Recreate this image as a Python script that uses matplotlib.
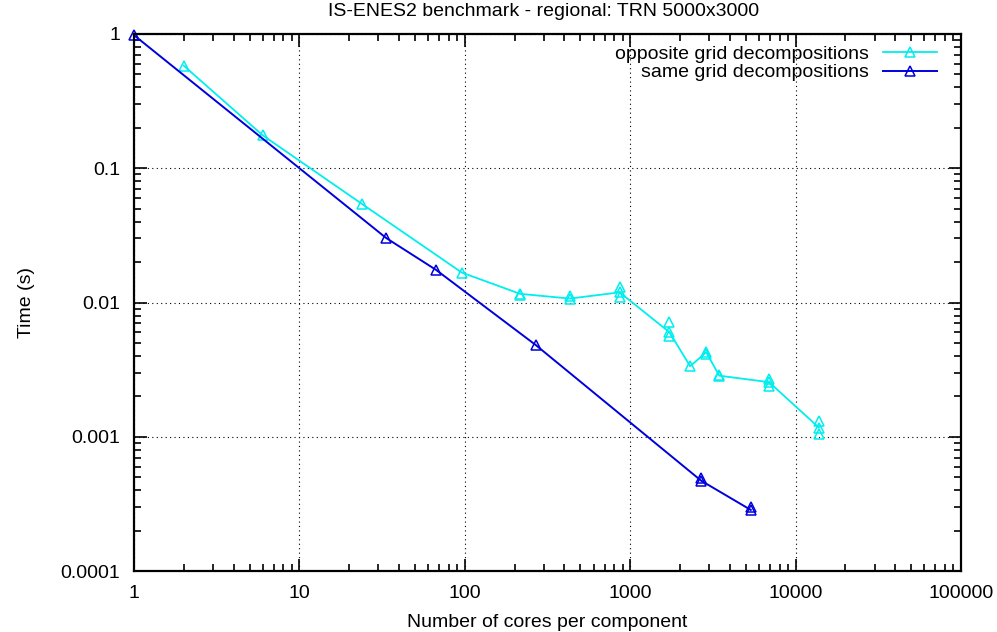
import numpy as np
import matplotlib.pyplot as plt
from matplotlib.ticker import LogLocator, FixedLocator, NullFormatter

plt.rcParams['font.family'] = ['Liberation Sans', 'DejaVu Sans']

# opposite grid decompositions (line goes through these)
opp_x = [2, 6, 24, 96, 216, 432, 864, 1728, 2304, 2880, 3456, 6912, 13824]
opp_y = [0.58, 0.176, 0.054, 0.0167, 0.0116, 0.0107, 0.0119, 0.0060, 0.00335, 0.00426, 0.00285, 0.00255, 0.00117]
# extra runs drawn as markers only
opp_extra_x = [216, 432, 864, 864, 1728, 1728, 2880, 3456, 6912, 6912, 13824, 13824]
opp_extra_y = [0.0113, 0.0111, 0.0131, 0.0110, 0.0071, 0.0056, 0.0041, 0.0029, 0.0027, 0.0024, 0.00131, 0.00105]

# same grid decompositions
same_x = [1, 33.5, 67, 268, 2690, 5360]
same_y = [0.98, 0.0302, 0.0175, 0.00483, 0.00047, 0.000285]
same_extra_x = [2690, 5360]
same_extra_y = [0.00049, 0.0003]

fig = plt.figure(figsize=(9.97, 6.32), dpi=100)
ax = fig.add_axes([134/997, 1 - 571/632, (961-134)/997, (571-34)/632])

cyan = '#00eeee'
blue = '#0000dd'
mk = dict(marker='^', markersize=7, markerfacecolor='none', markeredgewidth=1.1)

ax.plot(opp_x, opp_y, color=cyan, lw=1.3, label='opposite grid decompositions', **mk)
ax.plot(opp_extra_x, opp_extra_y, color=cyan, lw=0, **mk)
ax.plot(same_x, same_y, color=blue, lw=1.4, label='same grid decompositions', clip_on=False, **mk)
ax.plot(same_extra_x, same_extra_y, color=blue, lw=0, **mk)

ax.set_xscale('log')
ax.set_yscale('log')
ax.set_xlim(1, 100000)
ax.set_ylim(0.0001, 1)

xt = [1, 10, 100, 1000, 10000, 100000]
yt = [0.0001, 0.001, 0.01, 0.1, 1]
ax.xaxis.set_major_locator(FixedLocator(xt))
ax.set_xticklabels([str(v) for v in xt])
ax.yaxis.set_major_locator(FixedLocator(yt))
ax.set_yticklabels(['0.0001', '0.001', '0.01', '0.1', '1'])
ax.xaxis.set_minor_locator(LogLocator(base=10, subs=np.arange(2, 10), numticks=20))
ax.yaxis.set_minor_locator(LogLocator(base=10, subs=np.arange(2, 10), numticks=20))
ax.xaxis.set_minor_formatter(NullFormatter())
ax.yaxis.set_minor_formatter(NullFormatter())

ax.tick_params(which='both', direction='in', top=True, right=True, labelsize=14, width=1.2)
ax.tick_params(which='major', length=9, pad=10)
ax.tick_params(which='minor', length=5)
for s in ax.spines.values():
    s.set_linewidth(1.6)

ax.grid(True, which='major', color='black', linestyle=(0, (1, 3)), linewidth=0.8)

ax.set_xlabel('Number of cores per component', fontsize=14, labelpad=9)
ax.set_ylabel('Time (s)', fontsize=14, labelpad=18)

ax.legend(loc='upper right', bbox_to_anchor=((937-134)/827, 1 - 11/537), frameon=False,
          markerfirst=False, fontsize=14, handlelength=2.8, handletextpad=0.7,
          labelspacing=0.06, borderpad=0, borderaxespad=0)

fig.text(0.545, 1 - 16/632, 'IS-ENES2 benchmark - regional: TRN 5000x3000',
         ha='center', va='baseline', fontsize=14)

fig.savefig('out.png', dpi=100)
